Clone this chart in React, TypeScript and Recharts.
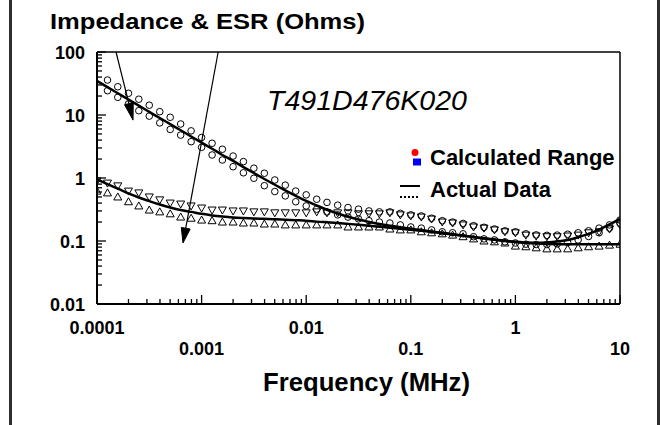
import React from 'react';
import { ComposedChart, XAxis, YAxis, Line, Scatter, ReferenceLine } from 'recharts';

// Frequency grid (MHz), 10 points per decade
const freqMHz = [
  0.0001, 0.000126, 0.000158, 0.0002, 0.000251, 0.000316, 0.000398, 0.000501, 0.000631, 0.000794,
  0.001, 0.00126, 0.00158, 0.002, 0.00251, 0.00316, 0.00398, 0.00501, 0.00631, 0.00794,
  0.01, 0.0126, 0.0158, 0.02, 0.0251, 0.0316, 0.0398, 0.0501, 0.0631, 0.0794,
  0.1, 0.126, 0.158, 0.2, 0.251, 0.316, 0.398, 0.501, 0.631, 0.794,
  1, 1.26, 1.58, 2, 2.51, 3.16, 3.98, 5.01, 6.31, 7.94,
  10,
];

// Actual data (solid lines)
const zActual = [
  34.7, 27.7, 22.1, 17.6, 14.1, 11.2, 8.97, 7.16, 5.72, 4.56,
  3.64, 2.91, 2.32, 1.87, 1.49, 1.2, 0.965, 0.781, 0.636, 0.522,
  0.433, 0.366, 0.313, 0.273, 0.242, 0.219, 0.201, 0.186, 0.175, 0.165,
  0.156, 0.149, 0.141, 0.135, 0.128, 0.122, 0.116, 0.111, 0.106, 0.101,
  0.097, 0.095, 0.094, 0.095, 0.098, 0.104, 0.115, 0.13, 0.152, 0.183,
  0.225,
];
const esrActual = [
  0.95, 0.8, 0.68, 0.57, 0.49, 0.43, 0.38, 0.34, 0.31, 0.29,
  0.27, 0.255, 0.245, 0.237, 0.232, 0.228, 0.225, 0.222, 0.218, 0.214,
  0.21, 0.203, 0.198, 0.193, 0.187, 0.181, 0.175, 0.169, 0.163, 0.157,
  0.151, 0.145, 0.139, 0.133, 0.127, 0.121, 0.115, 0.11, 0.105, 0.1,
  0.096, 0.093, 0.091, 0.09, 0.089, 0.089, 0.089, 0.089, 0.089, 0.089,
  0.089,
];

// Calculated range (markers)
const zHigh = [
  null, 35.9, 28.1, 22.1, 17.8, 14.3, 11.3, 9.2, 7.2, 5.6,
  4.4, 3.56, 2.86, 2.23, 1.82, 1.43, 1.19, 0.93, 0.77, 0.62,
  0.54, 0.46, 0.41, 0.37, 0.34, 0.32, 0.3, 0.29, 0.29, 0.275,
  0.26, 0.25, 0.23, 0.21, 0.2, 0.19, 0.175, 0.165, 0.155, 0.145,
  0.14, 0.13, 0.125, 0.123, 0.124, 0.128, 0.135, 0.145, 0.16, 0.18,
  0.215,
];
const zLow = [
  null, 24.3, 19.1, 15.0, 11.7, 9.6, 7.5, 5.9, 4.8, 3.77,
  3.07, 2.32, 1.93, 1.51, 1.21, 0.99, 0.755, 0.61, 0.52, 0.42,
  0.36, 0.32, 0.29, 0.26, 0.24, 0.225, 0.21, 0.2, 0.193, 0.18,
  0.167, 0.16, 0.15, 0.14, 0.135, 0.13, 0.117, 0.108, 0.104, 0.097,
  0.093, 0.089, 0.088, 0.088, 0.09, 0.095, 0.104, 0.118, 0.135, 0.16,
  0.19,
];
const esrHigh = [
  0.9, 0.83, 0.75, 0.62, 0.58, 0.5, 0.45, 0.4, 0.386, 0.36,
  0.334, 0.31, 0.31, 0.3, 0.3, 0.29, 0.29, 0.28, 0.28, 0.28,
  0.28, 0.29, 0.28, 0.28, 0.28, 0.27, 0.27, 0.27, 0.28, 0.26,
  0.25, 0.24, 0.223, 0.2, 0.193, 0.18, 0.167, 0.16, 0.15, 0.14,
  0.135, 0.124, 0.12, 0.117, 0.117, 0.12, 0.124, 0.135, 0.14, 0.155,
  0.18,
];
const esrLow = [
  0.62, 0.58, 0.5, 0.42, 0.36, 0.31, 0.29, 0.27, 0.24, 0.23,
  0.215, 0.21, 0.2, 0.2, 0.193, 0.193, 0.186, 0.186, 0.18, 0.18,
  0.18, 0.18, 0.18, 0.18, 0.167, 0.167, 0.167, 0.167, 0.155, 0.15,
  0.15, 0.14, 0.135, 0.13, 0.124, 0.117, 0.108, 0.1, 0.097, 0.093,
  0.083, 0.081, 0.078, 0.075, 0.075, 0.075, 0.078, 0.081, 0.083, 0.086,
  0.089,
];

// Axis ticks
const xDecades = [0.0001, 0.001, 0.01, 0.1, 1, 10];
const xTickLabels = ['0.0001', '0.001', '0.01', '0.1', '1', '10'];
const yDecades = [0.01, 0.1, 1, 10, 100];
const yTickLabels = ['0.01', '0.1', '1', '10', '100'];

// Annotation arrows (data coordinates: [start, tip])
const arrowA = [{ x: 0.000152, y: 100 }, { x: 0.000221, y: 8.3 }];
const arrowB = [{ x: 0.00144, y: 100 }, { x: 0.000664, y: 0.093 }];

const withMinor = (decs: number[]) => {
  const out: number[] = [];
  decs.forEach((d, i) => {
    out.push(d);
    if (i < decs.length - 1) for (let m = 2; m <= 9; m++) out.push(+(d * m).toPrecision(6));
  });
  return out;
};
const xTicks = withMinor(xDecades);
const yTicks = withMinor(yDecades);

const lineData = freqMHz.map((f, i) => ({ f, z: zActual[i], esr: esrActual[i] }));
const toPts = (arr: (number | null)[]) =>
  freqMHz.map((f, i) => ({ f, v: arr[i] })).filter((p) => p.v != null);

const FONT = 'Liberation Sans, Arial, Helvetica, sans-serif';

const decadeIndex = (list: number[], v: number) => list.findIndex((d) => Math.abs(d - v) / d < 1e-6);

const XTick = (props: any) => {
  const { x, y, payload } = props;
  const idx = decadeIndex(xDecades, payload.value);
  const major = idx >= 0;
  return (
    <g>
      <line x1={x} y1={y} x2={x} y2={y - (major ? 9 : 5)} stroke="#000" strokeWidth={1.3} />
      {major && (
        <text
          x={x}
          y={y + (idx % 2 === 0 ? 30 : 51)}
          textAnchor="middle"
          fontFamily={FONT}
          fontWeight="bold"
          fontSize={18}
          fill="#000"
        >
          {xTickLabels[idx]}
        </text>
      )}
    </g>
  );
};

const YTick = (props: any) => {
  const { x, y, payload } = props;
  const idx = decadeIndex(yDecades, payload.value);
  const major = idx >= 0;
  return (
    <g>
      <line x1={x} y1={y} x2={x + (major ? 9 : 5)} y2={y} stroke="#000" strokeWidth={1.3} />
      {major && (
        <text x={x - 12} y={y + 7} textAnchor="end" fontFamily={FONT} fontWeight="bold" fontSize={18} fill="#000">
          {yTickLabels[idx]}
        </text>
      )}
    </g>
  );
};

const CircleMark = (p: any) => <circle cx={p.cx} cy={p.cy} r={3.3} fill="none" stroke="#000" strokeWidth={1} />;
const TriDown = (p: any) => {
  const { cx, cy } = p;
  return <path d={`M${cx - 4},${cy - 3} L${cx + 4},${cy - 3} L${cx},${cy + 4} Z`} fill="none" stroke="#000" strokeWidth={1} />;
};
const TriUp = (p: any) => {
  const { cx, cy } = p;
  return <path d={`M${cx - 4},${cy + 3} L${cx + 4},${cy + 3} L${cx},${cy - 4} Z`} fill="none" stroke="#000" strokeWidth={1} />;
};

const ArrowShape = (headLen: number) => (p: any) => {
  const { x1, y1, x2, y2 } = p;
  const dx = x2 - x1;
  const dy = y2 - y1;
  const len = Math.sqrt(dx * dx + dy * dy) || 1;
  const ux = dx / len;
  const uy = dy / len;
  const bx = x2 - ux * headLen;
  const by = y2 - uy * headLen;
  const hw = 4.5;
  const px = -uy * hw;
  const py = ux * hw;
  return (
    <g>
      <line x1={x1} y1={y1} x2={bx} y2={by} stroke="#000" strokeWidth={1.2} />
      <path d={`M${x2},${y2} L${bx + px},${by + py} L${bx - px},${by - py} Z`} fill="#000" stroke="#000" strokeWidth={1} />
    </g>
  );
};

export default function App() {
  return (
    <div style={{ position: 'absolute', left: 0, top: 0, width: 660, height: 425, background: '#fff' }}>
      <div style={{ position: 'absolute', left: 9, top: 0, width: 3, height: 425, background: '#2e2e2e' }} />
      <div style={{ position: 'absolute', left: 657, top: 0, width: 3, height: 425, background: '#2e2e2e' }} />
      <div style={{ position: 'absolute', left: 0, top: 0 }}>
        <ComposedChart width={660} height={425} margin={{ top: 52, left: 96, right: 40, bottom: 120 }}>
          <XAxis
            dataKey="f"
            type="number"
            scale="log"
            domain={[0.0001, 10]}
            allowDataOverflow
            ticks={xTicks}
            interval={0}
            tick={<XTick />}
            tickLine={false}
            tickSize={0}
            tickMargin={0}
            height={1}
            axisLine={{ stroke: '#000', strokeWidth: 2 }}
          />
          <YAxis
            type="number"
            scale="log"
            domain={[0.01, 100]}
            allowDataOverflow
            ticks={yTicks}
            interval={0}
            tick={<YTick />}
            tickLine={false}
            tickSize={0}
            tickMargin={0}
            width={1}
            axisLine={{ stroke: '#000', strokeWidth: 2 }}
          />
          <ReferenceLine y={100} stroke="#000" strokeWidth={1.5} />
          <ReferenceLine x={10} stroke="#000" strokeWidth={1.5} />
          <Scatter data={toPts(zHigh)} dataKey="v" shape={CircleMark} isAnimationActive={false} />
          <Scatter data={toPts(zLow)} dataKey="v" shape={CircleMark} isAnimationActive={false} />
          <Scatter data={toPts(esrHigh)} dataKey="v" shape={TriDown} isAnimationActive={false} />
          <Scatter data={toPts(esrLow)} dataKey="v" shape={TriUp} isAnimationActive={false} />
          <Line data={lineData} dataKey="z" type="monotone" stroke="#000" strokeWidth={2.5} dot={false} isAnimationActive={false} />
          <Line data={lineData} dataKey="esr" type="monotone" stroke="#000" strokeWidth={2.5} dot={false} isAnimationActive={false} />
          <ReferenceLine segment={arrowA} shape={ArrowShape(17)} />
          <ReferenceLine segment={arrowB} shape={ArrowShape(15)} />
        </ComposedChart>
      </div>
      <svg width={660} height={425} style={{ position: 'absolute', left: 0, top: 0, pointerEvents: 'none' }}>
        <text x={50} y={29} fontFamily={FONT} fontWeight="bold" fontSize={22} textLength={315} lengthAdjust="spacingAndGlyphs" fill="#000">
          Impedance &amp; ESR (Ohms)
        </text>
        <text x={263} y={391} fontFamily={FONT} fontWeight="bold" fontSize={25} textLength={207} lengthAdjust="spacingAndGlyphs" fill="#000">
          Frequency (MHz)
        </text>
        <text x={267} y={110} fontFamily={FONT} fontStyle="italic" fontSize={27} textLength={200} lengthAdjust="spacingAndGlyphs" fill="#000">
          T491D476K020
        </text>
        <circle cx={415} cy={152.5} r={3.5} fill="#ff0000" />
        <rect x={413} y={158.5} width={8} height={7} fill="#0000ff" />
        <text x={430} y={165} fontFamily={FONT} fontWeight="bold" fontSize={22} fill="#000">
          Calculated Range
        </text>
        <line x1={400} y1={186} x2={420} y2={186} stroke="#000" strokeWidth={2} />
        <line x1={400} y1={197} x2={420} y2={197} stroke="#000" strokeWidth={2} strokeDasharray="2 2" />
        <text x={430} y={197} fontFamily={FONT} fontWeight="bold" fontSize={22} fill="#000">
          Actual Data
        </text>
      </svg>
    </div>
  );
}
